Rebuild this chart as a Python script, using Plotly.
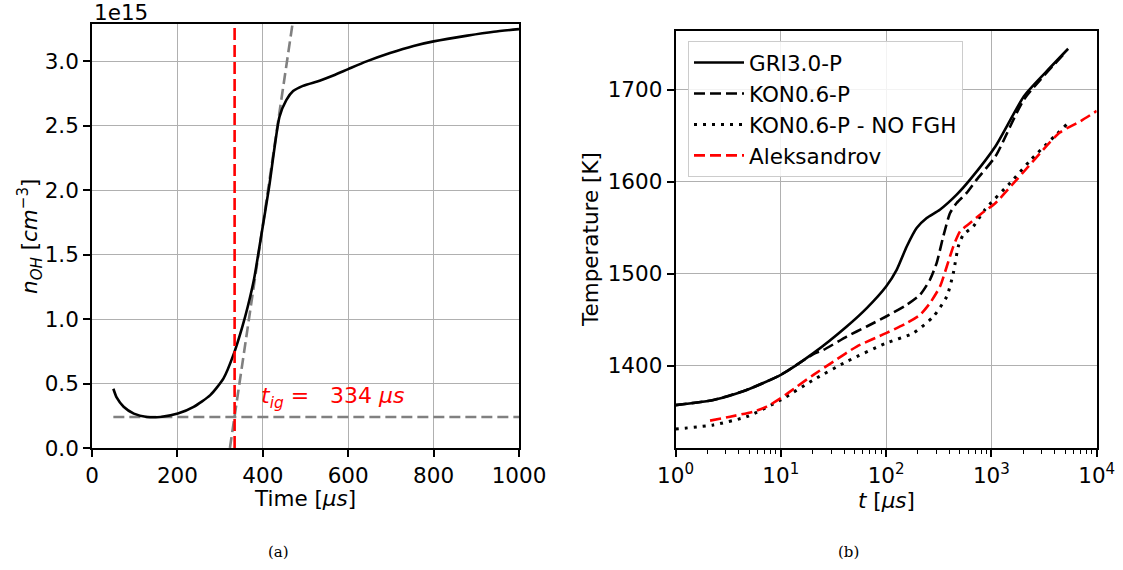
import plotly.graph_objects as go

# ---------------- data: panel (a) ----------------
time_a = [50, 58, 74, 98, 129, 160, 201, 238, 277, 308, 332, 352, 365, 380, 395, 415, 439, 455,
          471, 494, 533, 565, 600, 643, 698, 753, 800, 879, 941, 1000]
n_oh = [0.46, 0.39, 0.32, 0.267, 0.241, 0.241, 0.267, 0.319, 0.41, 0.54, 0.73, 0.94, 1.10, 1.32,
        1.62, 2.03, 2.57, 2.70, 2.77, 2.81, 2.85, 2.89, 2.94, 3.0, 3.065, 3.12, 3.155, 3.20,
        3.23, 3.25]
baseline_t = [50, 1000]
baseline_n = [0.24, 0.24]
tangent_t = [323, 470]
tangent_n = [0.0, 3.3]
t_ig = 334
n_range = [0, 3.29]
ticks_a_y = [0.0, 0.5, 1.0, 1.5, 2.0, 2.5, 3.0]
ticks_a_x = [0, 200, 400, 600, 800, 1000]

# ---------------- data: panel (b) ----------------
gri_t = [1.0, 2.29, 4.74, 10, 20.4, 42.3, 65.5, 100, 126, 157, 195, 243, 324, 468, 627, 1094,
         2037, 3243, 5358]
gri_T = [1357, 1362.6, 1373.5, 1389.9, 1413.5, 1442.5, 1462.5, 1486, 1504.2, 1529.6, 1549.7,
         1560.6, 1569.6, 1586, 1602.3, 1638.6, 1693, 1718.5, 1744.7]

kon_t = [1.0, 2.29, 4.74, 10, 20.4, 25.4, 42.3, 65.5, 100, 157, 210, 261, 302, 349, 405, 468,
         582, 724, 1094, 2037, 5164]
kon_T = [1357, 1362.6, 1373.5, 1389.9, 1412.5, 1417, 1431.6, 1442.5, 1453.4, 1466.1, 1477,
         1493.4, 1511.5, 1540.5, 1566, 1576.9, 1587.8, 1602.3, 1627.7, 1689.4, 1742]

nofgh_t = [1.0, 2.29, 4.74, 10, 20.4, 42.3, 100, 181, 281, 377, 435, 485, 541, 673, 867, 1614,
           2377, 5164]
nofgh_T = [1331, 1335.4, 1344.4, 1362.6, 1384.4, 1404.4, 1424.4, 1435.3, 1453.4, 1475.2,
           1500.7, 1529.6, 1542.4, 1551.4, 1569.6, 1602.3, 1624, 1662.2]

alek_t = [2.13, 3.30, 5.48, 7.35, 10, 14.2, 20.4, 31.6, 52.6, 100, 157, 210, 261, 325, 377,
          435, 504, 627, 780, 1094, 1742, 4426, 7030, 10000]
alek_T = [1340.1, 1344.4, 1349.9, 1355.3, 1364.5, 1377.1, 1389.9, 1404.4, 1420.7, 1435.3,
          1446.2, 1455.2, 1468, 1486, 1507.8, 1529.6, 1546, 1555.1, 1564.2, 1576.9, 1602.3,
          1653.2, 1666, 1677]

names_b = ["GRI3.0-P", "KON0.6-P", "KON0.6-P - NO FGH", "Aleksandrov"]
T_range = [1310, 1764]
ticks_b_y = [1400, 1500, 1600, 1700]
ticks_b_x = [1, 10, 100, 1000, 10000]
ticktext_b_x = ["10<sup>0</sup>", "10<sup>1</sup>", "10<sup>2</sup>", "10<sup>3</sup>", "10<sup>4</sup>"]

# ---------------- figure ----------------
W, H = 1123, 570
FONT = "DejaVu Sans"
FS = 21.5
fig = go.Figure()

LW = 2.6
# panel (a)
fig.add_trace(go.Scatter(x=baseline_t, y=baseline_n, mode="lines", xaxis="x", yaxis="y",
                         line=dict(color="gray", width=LW, dash="11px,5px"), showlegend=False))
fig.add_trace(go.Scatter(x=tangent_t, y=tangent_n, mode="lines", xaxis="x", yaxis="y",
                         line=dict(color="gray", width=LW, dash="11px,5px"), showlegend=False))
fig.add_trace(go.Scatter(x=time_a, y=n_oh, mode="lines", xaxis="x", yaxis="y",
                         line=dict(color="black", width=LW, shape="spline", smoothing=0.6),
                         showlegend=False))
fig.add_trace(go.Scatter(x=[t_ig, t_ig], y=n_range, mode="lines", xaxis="x", yaxis="y",
                         line=dict(color="red", width=LW, dash="12px,5px"), showlegend=False))

# panel (b)
fig.add_trace(go.Scatter(x=gri_t, y=gri_T, mode="lines", name=names_b[0], xaxis="x2", yaxis="y2",
                         line=dict(color="black", width=LW, shape="spline", smoothing=0.6)))
fig.add_trace(go.Scatter(x=kon_t, y=kon_T, mode="lines", name=names_b[1], xaxis="x2", yaxis="y2",
                         line=dict(color="black", width=LW, dash="11px,5px", shape="spline", smoothing=0.6)))
fig.add_trace(go.Scatter(x=nofgh_t, y=nofgh_T, mode="lines", name=names_b[2], xaxis="x2", yaxis="y2",
                         line=dict(color="black", width=LW + 0.4, dash="3px,6px", shape="spline", smoothing=0.6)))
fig.add_trace(go.Scatter(x=alek_t, y=alek_T, mode="lines", name=names_b[3], xaxis="x2", yaxis="y2",
                         line=dict(color="red", width=LW, dash="11px,5px", shape="spline", smoothing=0.6)))


def px_x(p):
    return p / W


def px_y(p):
    return 1 - p / H


axis_common = dict(showline=True, mirror=True, linecolor="black", linewidth=1.6,
                   ticks="outside", ticklen=7, tickwidth=1.5, tickcolor="black",
                   showgrid=True, gridcolor="#b0b0b0", gridwidth=1.2, zeroline=False,
                   automargin=False, ticklabeloverflow="allow",
                   tickfont=dict(family=FONT, size=FS, color="black"))

fig.update_layout(
    width=W, height=H, margin=dict(l=0, r=0, t=0, b=0, pad=0, autoexpand=False),
    paper_bgcolor="white", plot_bgcolor="white",
    font=dict(family=FONT, size=FS, color="black"),
    xaxis=dict(domain=[px_x(92), px_x(519)], range=[0, 1000], tickvals=ticks_a_x,
               anchor="y", **axis_common),
    yaxis=dict(domain=[px_y(448), px_y(24)], range=n_range, tickvals=ticks_a_y,
               tickformat=".1f", anchor="x", **axis_common),
    xaxis2=dict(domain=[px_x(675.5), px_x(1096.7)], type="log", range=[0, 4],
                tickvals=ticks_b_x, ticktext=ticktext_b_x, anchor="y2",
                minor=dict(ticks="outside", ticklen=4, tickwidth=1.2, tickcolor="black",
                           showgrid=False, dtick="D1"),
                **axis_common),
    yaxis2=dict(domain=[px_y(448.3), px_y(31)], range=T_range, tickvals=ticks_b_y,
                anchor="x2", **axis_common),
    legend=dict(x=px_x(688), y=px_y(41), xanchor="left", yanchor="top",
                bgcolor="rgba(255,255,255,0.85)", bordercolor="#cccccc", borderwidth=1,
                itemwidth=50,
                font=dict(family=FONT, size=FS, color="black"), tracegroupgap=4),
    showlegend=True,
)


def ann(text, x, y, size=FS, family=FONT, angle=0, color="black"):
    return dict(text=text, x=px_x(x), y=px_y(y), xref="paper", yref="paper",
                xanchor="center", yanchor="middle", textangle=angle, showarrow=False,
                font=dict(family=family, size=size, color=color))


annotations = [
    dict(text="1e15", x=px_x(92), y=px_y(13), xref="paper", yref="paper", xanchor="left",
         yanchor="middle", showarrow=False, font=dict(family=FONT, size=FS)),
    ann("<i>n</i><sub><i>OH</i></sub> [<i>cm</i><sup>−3</sup>]", 30, 237, angle=-90),
    ann("Time [<i>μs</i>]", 305, 499),
    dict(text="<i>t</i><sub><i>ig</i></sub> =\u00a0\u00a0 " + str(t_ig) + " <i>μs</i>", x=390, y=0.39,
         xref="x", yref="y", xanchor="left", yanchor="middle", showarrow=False,
         font=dict(family=FONT, size=22, color="red")),
    ann("Temperature [K]", 590, 240, angle=-90),
    ann("<i>t</i> [<i>μs</i>]", 886, 500),
    ann("(a)", 278, 552, size=15, family="DejaVu Serif"),
    ann("(b)", 848, 552, size=15, family="DejaVu Serif"),
]
fig.update_layout(annotations=annotations)

fig.write_html(
    "out.html",
    config={"displayModeBar": False},
    post_script="document.body.style.margin='0';document.body.style.overflow='hidden';",
)
